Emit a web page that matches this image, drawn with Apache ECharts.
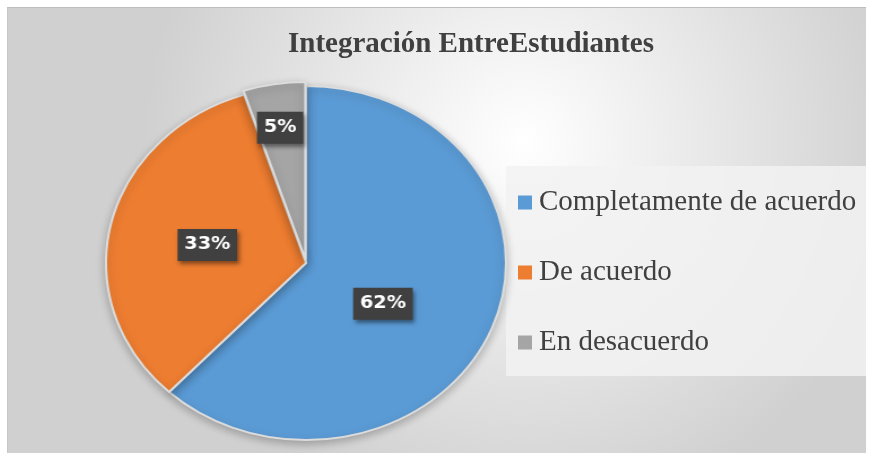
<!DOCTYPE html>
<html lang="es">
<head>
    <meta charset="UTF-8">
    <title>Integración</title>
    <script src="https://cdn.jsdelivr.net/npm/echarts@6/dist/echarts.min.js"></script>
    <style>
        html, body { margin: 0; padding: 0; background: #fff; }
        #frame { position: absolute; left: 7px; top: 7px; width: 859px; height: 446px;
                 border-top: 1px solid #bdbdbd; border-left: 1px solid #c8c8c8; box-sizing: border-box; }
        #main { position: absolute; left: 0; top: 0; width: 100%; height: 100%; }
        /* el pastel original es un poco mas ancho que alto */
        #pie { position: absolute; left: 0; top: 0; width: 100%; height: 100%;
               transform: scale(1.13, 1); transform-origin: 298px 255px; }
    </style>
</head>
<body>
<div id="frame"><div id="main"></div><div id="pie"></div></div>
<script>
    // datos del grafico
    var categorias = ['Completamente de acuerdo', 'De acuerdo', 'En desacuerdo'];
    var valores = [62, 33, 5];
    var colores = ['#5b9bd5', '#ed7d31', '#a5a5a5'];

    var myChart = echarts.init(document.getElementById('main'));
    var pieChart = echarts.init(document.getElementById('pie'));

    // ajuste de cada etiqueta respecto a su posicion interior
    var desplaz = [[-17, 7], [2, 2], [-8, -41]];

    var datos = categorias.map(function (c, i) {
        return {
            name: c,
            value: valores[i],
            itemStyle: { color: colores[i] },
            selected: i === 2
        };
    });

    var option = {
        animation: false,
        graphic: [
            {
                type: 'rect', z: -10, silent: true,
                shape: { x: 0, y: 0, width: 859, height: 446 },
                style: {
                    fill: {
                        type: 'radial', x: 0.6, y: 0.3, r: 0.85,
                        colorStops: [
                            { offset: 0, color: '#ffffff' },
                            { offset: 1, color: '#d0d0d0' }
                        ]
                    }
                }
            },
            {
                type: 'rect', z: -9, silent: true,
                shape: { x: 498, y: 158, width: 361, height: 210 },
                style: { fill: 'rgba(242,242,242,0.85)' }
            }
        ],
        title: {
            text: 'Integración EntreEstudiantes',
            left: 458,
            top: 17,
            textAlign: 'center',
            textStyle: {
                fontFamily: 'Liberation Serif',
                fontWeight: 'bold',
                fontSize: 29,
                color: '#404040'
            }
        },
        legend: {
            orient: 'vertical',
            left: 505,
            top: 175,
            itemGap: 41,
            itemWidth: 14,
            itemHeight: 14,
            icon: 'rect',
            data: categorias.map(function (c, i) {
                return { name: c, itemStyle: { color: colores[i] } };
            }),
            textStyle: {
                fontFamily: 'Liberation Serif',
                fontSize: 29,
                color: '#404040',
                padding: [0, 0, 0, 2]
            }
        },
        series: [{
            // serie vacia para que la leyenda tenga sus nombres
            type: 'pie',
            radius: 0,
            silent: true,
            label: { show: false },
            data: categorias.map(function (c, i) {
                return { name: c, value: 0, itemStyle: { color: colores[i] } };
            })
        }]
    };

    var pieOption = {
        animation: false,
        series: [{
            type: 'pie',
            center: [298, 255],
            radius: 177,
            startAngle: 90,
            clockwise: true,
            selectedMode: 'single',
            selectedOffset: 4,
            itemStyle: {
                borderColor: '#dcdcdc',
                borderWidth: 2,
                shadowBlur: 8,
                shadowColor: 'rgba(0,0,0,0.25)',
                shadowOffsetY: 3
            },
            label: {
                show: true,
                position: 'inside',
                formatter: '{c}%',
                color: '#ffffff',
                fontFamily: 'DejaVu Sans',
                fontWeight: 'bold',
                fontSize: 17,
                backgroundColor: '#404040',
                padding: [8, 6, 7, 6],
                shadowBlur: 4,
                shadowColor: 'rgba(0,0,0,0.45)',
                shadowOffsetX: 2,
                shadowOffsetY: 3
            },
            labelLayout: function (params) {
                var d = desplaz[params.dataIndex];
                return { dx: d[0], dy: d[1] };
            },
            labelLine: { show: false },
            emphasis: { disabled: true },
            data: datos
        }]
    };

    myChart.setOption(option);
    pieChart.setOption(pieOption);
</script>
</body>
</html>
